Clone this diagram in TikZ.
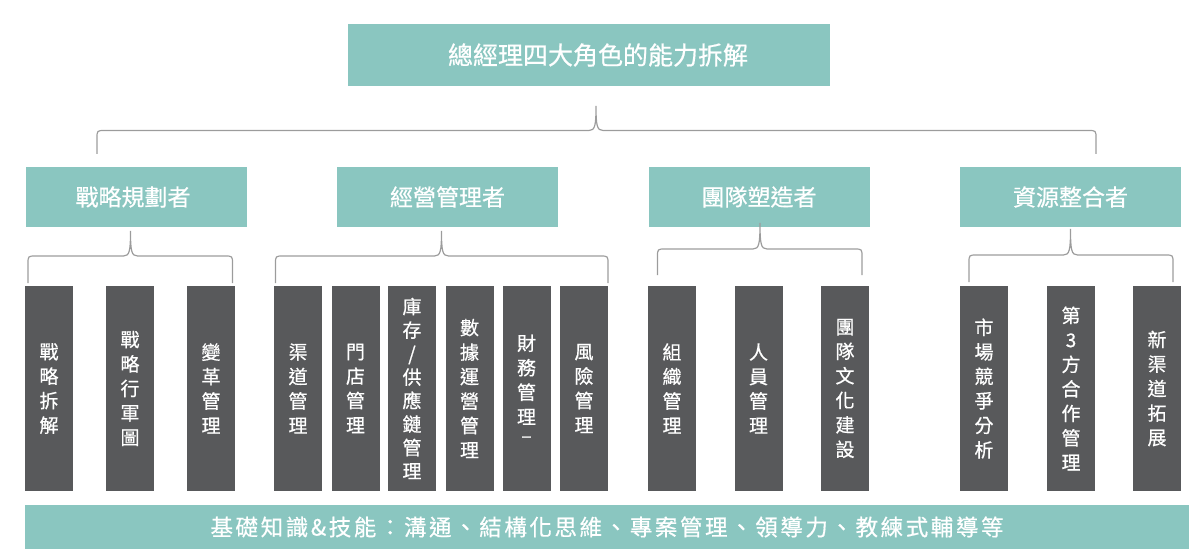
\documentclass[tikz,border=0pt]{standalone}
\usepackage{fontspec}
\newfontfamily\cjk[FakeBold=0.6]{Noto Sans CJK TC}
\newfontfamily\cjkwide[FakeBold=0.6,LetterSpace=11.5]{Noto Sans CJK TC}
\definecolor{roleteal}{HTML}{8AC6C0}
\definecolor{bardark}{HTML}{58595B}
\definecolor{bracegray}{HTML}{9C9C9C}
% left, right, tip x, end y, line y, tip y
\newcommand{\groupbrace}[6]{%
  \draw[brace] (#1,#4) -- (#1,#5+8) .. controls (#1,#5) .. (#1+8,#5)
    -- (#3-7,#5) .. controls (#3-1,#5) and (#3,#5-5) .. (#3,#6)
    .. controls (#3,#5-5) and (#3+1,#5) .. (#3+7,#5)
    -- (#2-8,#5) .. controls (#2,#5) .. (#2,#5+8) -- (#2,#4);}

\begin{document}
\begin{tikzpicture}[x=1pt,y=-1pt,
    titlebox/.style={fill=roleteal,text=white,inner sep=0pt,minimum width=482pt,minimum height=62pt,font=\cjk\fontsize{25}{30}\selectfont},
    rolebox/.style={fill=roleteal,text=white,inner sep=0pt,minimum width=221pt,minimum height=60pt,font=\cjk\fontsize{23}{28}\selectfont},
    taskbar/.style={fill=bardark,text=white,inner sep=0pt,minimum width=48pt,minimum height=205pt,align=center,font=\cjk\fontsize{19}{24.5}\selectfont},
    basebar/.style={fill=roleteal,text=white,inner sep=0pt,minimum width=1164pt,minimum height=44pt,font=\cjkwide\fontsize{22.5}{26}\selectfont},
    brace/.style={draw=bracegray,line width=1.2pt}]

\useasboundingbox (0,0) rectangle (1200,559);

\node[titlebox] (abilities) at (589,55) {\hspace*{18pt}總經理四大角色的能力拆解};

\node[rolebox] (strategist) at (136,197) {戰略規劃者\hspace*{6pt}};
\node[rolebox] (operator) at (447.5,197) {經營管理者};
\node[rolebox] (teambuilder) at (759,197) {團隊塑造者};
\node[rolebox] (integrator) at (1070.5,197) {資源整合者};

\node[taskbar] (s1) at (49,388.5) {戰\\略\\拆\\解};
\node[taskbar] (s2) at (130,388.5) {戰\\略\\行\\軍\\圖};
\node[taskbar] (s3) at (211,388.5) {變\\革\\管\\理};

\node[taskbar] (o1) at (298,388.5) {渠\\道\\管\\理};
\node[taskbar] (o2) at (355.5,388.5) {門\\店\\管\\理};
\node[taskbar,font=\cjk\fontsize{19}{23.5}\selectfont] (o3) at (412,388.5) {庫\\存\\/\\供\\應\\鏈\\管\\理};
\node[taskbar] (o4) at (469.5,388.5) {數\\據\\運\\營\\管\\理};
\node[taskbar] (o5) at (526.5,388.5) {財\\務\\管\\理\\[-6pt]–};
\node[taskbar] (o6) at (584,388.5) {風\\險\\管\\理};

\node[taskbar] (t1) at (672,388.5) {組\\織\\管\\理};
\node[taskbar] (t2) at (758.5,388.5) {人\\員\\管\\理};
\node[taskbar] (t3) at (845,388.5) {團\\隊\\文\\化\\建\\設};

\node[taskbar] (r1) at (984,388.5) {市\\場\\競\\爭\\分\\析};
\node[taskbar] (r2) at (1071,388.5) {第\\3\\方\\合\\作\\管\\理};
\node[taskbar] (r3) at (1157,388.5) {新\\渠\\道\\拓\\展};

\node[basebar] (basics) at (607,527) {基礎知識\&技能：溝通、結構化思維、專案管理、領導力、教練式輔導等};

\groupbrace{97}{1096}{596}{154}{130.5}{106}
\groupbrace{28}{232.5}{130.5}{283}{256}{231}
\groupbrace{275.5}{608}{441.5}{283}{256}{231}
\groupbrace{657.5}{862}{760}{275}{249}{223}
\groupbrace{969}{1173}{1070.5}{282}{255}{229}
\end{tikzpicture}
\end{document}
